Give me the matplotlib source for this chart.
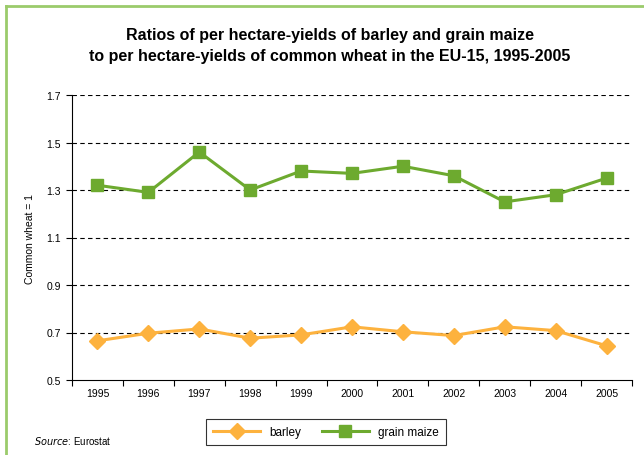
import numpy as np
import matplotlib
matplotlib.use('Agg')
import matplotlib.pyplot as plt
from matplotlib.lines import Line2D

plt.rcParams['font.family'] = ['Liberation Sans', 'DejaVu Sans']

years = ['1995', '1996', '1997', '1998', '1999', '2000', '2001', '2002', '2003', '2004', '2005']
barley = [0.665, 0.697, 0.715, 0.676, 0.690, 0.724, 0.703, 0.687, 0.724, 0.708, 0.644]
grain_maize = [1.32, 1.29, 1.46, 1.30, 1.38, 1.37, 1.40, 1.36, 1.25, 1.28, 1.35]
yticks = [0.5, 0.7, 0.9, 1.1, 1.3, 1.5, 1.7]

orange = '#FDB23E'
green = '#6DAA2F'

fig = plt.figure(figsize=(6.44, 4.56), dpi=100)
ax = fig.add_axes([72/644, 1-381/456, (632-72)/644, (381-96)/456])

x = np.arange(len(years))
ax.plot(x, barley, color=orange, lw=2.2, marker='D', ms=8.5, mec=orange, label='barley')
ax.plot(x, grain_maize, color=green, lw=2.2, marker='s', ms=8, mec=green, label='grain maize')

ax.set_xlim(-0.5, len(years)-0.5)
ax.set_ylim(0.5, 1.7)
ax.set_yticks(yticks)
ax.set_yticklabels(['%.1f' % v for v in yticks], fontsize=7.5)
ax.set_xticks(np.arange(-0.5, len(years), 1.0))
ax.set_xticklabels([])
ax.set_xticks(x, minor=True)
ax.set_xticklabels(years, minor=True, fontsize=7.5)
ax.tick_params(axis='x', which='minor', length=0, pad=6)
ax.tick_params(axis='x', which='major', length=4, direction='out', width=0.8)
ax.tick_params(axis='y', length=4, direction='out', width=0.8, pad=4)
for v in yticks[1:]:
    ax.axhline(v, color='black', lw=0.8, ls=(0, (4, 3)), zorder=0)
for s in ['top', 'right']:
    ax.spines[s].set_visible(False)
ax.spines['left'].set_linewidth(0.8)
ax.spines['bottom'].set_linewidth(0.8)
ax.set_ylabel('Common wheat = 1', fontsize=7.5, labelpad=8)

fig.text(0.512, 1-46/456, 'Ratios of per hectare-yields of barley and grain maize\nto per hectare-yields of common wheat in the EU-15, 1995-2005',
         ha='center', va='center', fontsize=11.5, fontweight='bold', linespacing=1.55)

handles = [Line2D([], [], color=orange, lw=2.2, marker='D', ms=8.5),
           Line2D([], [], color=green, lw=2.2, marker='s', ms=8)]
leg = fig.legend(handles, ['barley', 'grain maize'], loc='center', bbox_to_anchor=(326/644, 1-433/456),
                 ncol=2, frameon=True, fancybox=False, fontsize=8.5, handlelength=4, columnspacing=1.7,
                 borderpad=0.6)
leg.get_frame().set_edgecolor('black')
leg.get_frame().set_linewidth(0.8)

fig.text(34/644, 1-441/456, r'$\it{Source}$: Eurostat', fontsize=7, va='center')

border = '#9BCB6B'
fig.add_artist(Line2D([6/644, 6/644], [0, 1-7/456], color=border, lw=2, transform=fig.transFigure))
fig.add_artist(Line2D([6/644, 1], [1-7/456, 1-7/456], color=border, lw=2, transform=fig.transFigure))

fig.savefig('out.png', dpi=100)
